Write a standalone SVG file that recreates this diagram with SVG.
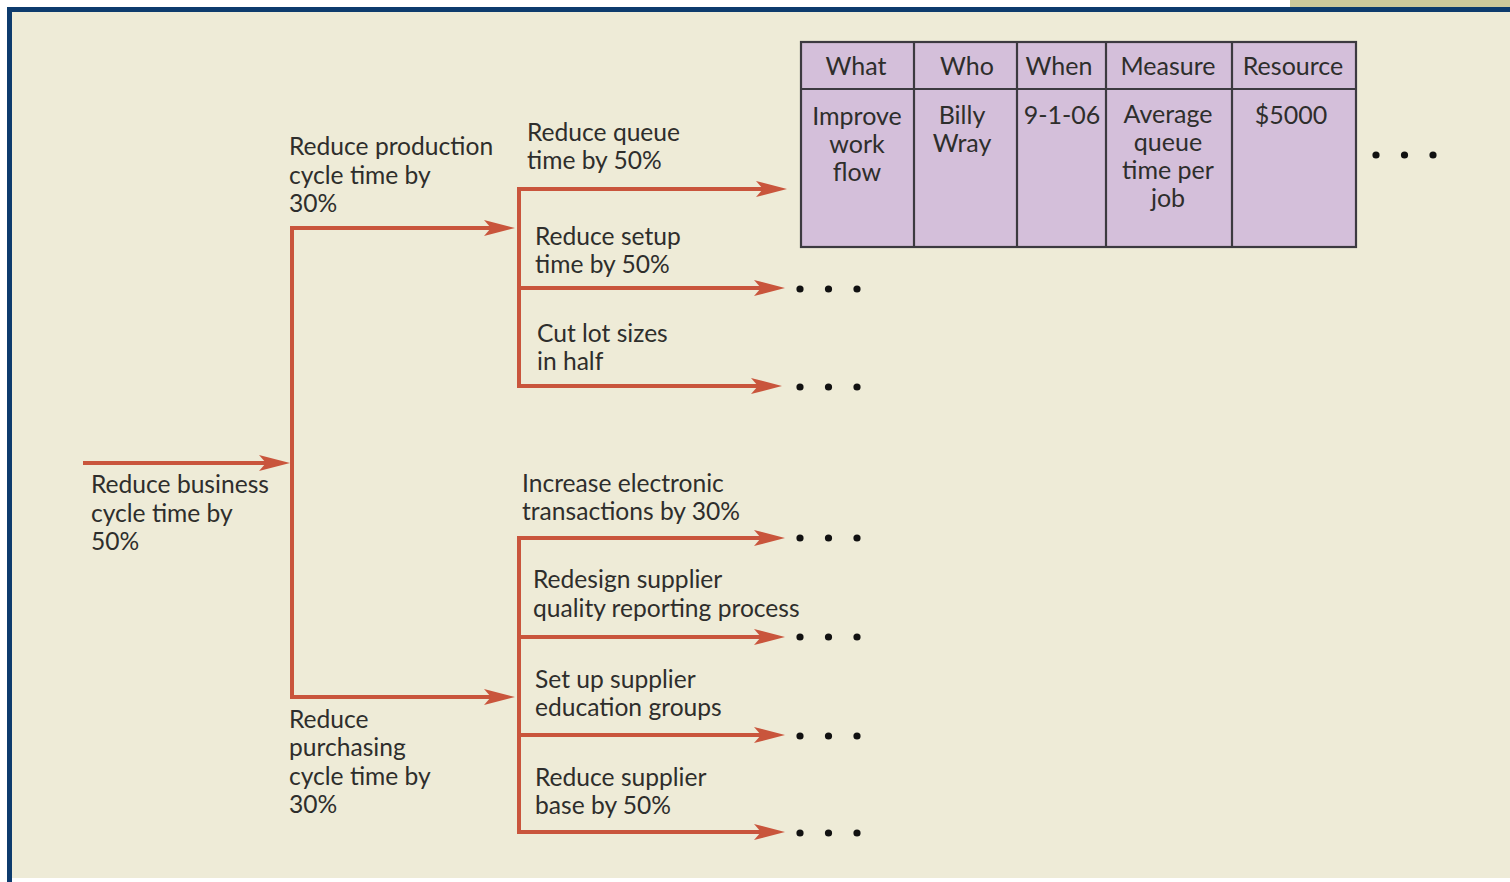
<svg xmlns="http://www.w3.org/2000/svg" width="1510" height="882" viewBox="0 0 1510 882">
  <style>
    .lbl { font-family: Lato, "Open Sans", "Liberation Sans", sans-serif; font-size: 24.6px; fill: #2e2e2c; }
    .cell { font-family: Lato, "Open Sans", "Liberation Sans", sans-serif; font-size: 25px; fill: #2e2e2c; text-anchor: middle; }
    .conn { stroke: #c9553c; stroke-width: 4; fill: none; }
    .arr { marker-end: url(#head); }
    .grid { stroke: #3c3a40; stroke-width: 2.2; fill: none; }
    .dot { fill: #111; }
  </style>
  <defs>
    <marker id="head" markerUnits="userSpaceOnUse" viewBox="-32 -9 33 18" markerWidth="33" markerHeight="18" refX="-12" refY="0" orient="auto">
      <path d="M0,0 L-31,-8 L-24,0 L-31,8 Z" fill="#c9553c"/>
    </marker>
    <g id="dots">
      <circle class="dot" cx="0" cy="0" r="3.6"/>
      <circle class="dot" cx="28.5" cy="0" r="3.6"/>
      <circle class="dot" cx="57" cy="0" r="3.6"/>
    </g>
  </defs>

  <!-- page frame -->
  <rect x="0" y="0" width="1510" height="882" fill="#ffffff"/>
  <rect x="1290" y="0" width="220" height="8" fill="#cdc99b"/>
  <rect x="7" y="7" width="1503" height="875" fill="#0d3b6d"/>
  <rect x="12" y="12" width="1498" height="866" fill="#eeebd7"/>
  <rect x="12" y="878" width="1498" height="4" fill="#ffffff"/>

  <!-- connectors -->
  <g id="connectors">
    <line class="conn arr" x1="83" y1="463" x2="278" y2="463"/>
    <polyline class="conn" points="292,228 292,697"/>
    <line class="conn arr" x1="290" y1="228" x2="503" y2="228"/>
    <line class="conn arr" x1="290" y1="697" x2="503" y2="697"/>

    <polyline class="conn" points="519,189 519,386"/>
    <line class="conn arr" x1="517" y1="189" x2="775" y2="189"/>
    <line class="conn arr" x1="517" y1="288" x2="773" y2="288"/>
    <line class="conn arr" x1="517" y1="386" x2="770" y2="386"/>

    <polyline class="conn" points="519,538 519,832"/>
    <line class="conn arr" x1="517" y1="538" x2="773" y2="538"/>
    <line class="conn arr" x1="517" y1="637" x2="773" y2="637"/>
    <line class="conn arr" x1="517" y1="735" x2="773" y2="735"/>
    <line class="conn arr" x1="517" y1="832" x2="773" y2="832"/>

    <use href="#dots" x="800" y="289"/>
    <use href="#dots" x="800" y="387"/>
    <use href="#dots" x="800" y="538"/>
    <use href="#dots" x="800" y="637"/>
    <use href="#dots" x="800" y="736"/>
    <use href="#dots" x="800" y="833"/>
    <use href="#dots" x="1376" y="155"/>
  </g>

  <!-- goal and sub-goal labels -->
  <g id="goal-business">
    <text class="lbl" x="91" y="493">Reduce business</text>
    <text class="lbl" x="91" y="522">cycle time by</text>
    <text class="lbl" x="91" y="550">50%</text>
  </g>
  <g id="goal-production">
    <text class="lbl" x="289" y="155">Reduce production</text>
    <text class="lbl" x="289" y="184">cycle time by</text>
    <text class="lbl" x="289" y="212">30%</text>
  </g>
  <g id="goal-purchasing">
    <text class="lbl" x="289" y="728">Reduce</text>
    <text class="lbl" x="289" y="756">purchasing</text>
    <text class="lbl" x="289" y="785">cycle time by</text>
    <text class="lbl" x="289" y="813">30%</text>
  </g>

  <g id="task-queue">
    <text class="lbl" x="527" y="141">Reduce queue</text>
    <text class="lbl" x="527" y="169">time by 50%</text>
  </g>
  <g id="task-setup">
    <text class="lbl" x="535" y="245">Reduce setup</text>
    <text class="lbl" x="535" y="273">time by 50%</text>
  </g>
  <g id="task-lots">
    <text class="lbl" x="537" y="342">Cut lot sizes</text>
    <text class="lbl" x="537" y="370">in half</text>
  </g>
  <g id="task-electronic">
    <text class="lbl" x="522" y="492">Increase electronic</text>
    <text class="lbl" x="522" y="520">transactions by 30%</text>
  </g>
  <g id="task-quality">
    <text class="lbl" x="533" y="588">Redesign supplier</text>
    <text class="lbl" x="533" y="617">quality reporting process</text>
  </g>
  <g id="task-education">
    <text class="lbl" x="535" y="688">Set up supplier</text>
    <text class="lbl" x="535" y="716">education groups</text>
  </g>
  <g id="task-base">
    <text class="lbl" x="535" y="786">Reduce supplier</text>
    <text class="lbl" x="535" y="814">base by 50%</text>
  </g>

  <!-- action plan table -->
  <g id="action-table">
    <rect x="801" y="42" width="555" height="205" fill="#d4bfda"/>
    <rect class="grid" x="801" y="42" width="555" height="205"/>
    <line class="grid" x1="801" y1="89" x2="1356" y2="89"/>
    <line class="grid" x1="914" y1="42" x2="914" y2="247"/>
    <line class="grid" x1="1017" y1="42" x2="1017" y2="247"/>
    <line class="grid" x1="1106" y1="42" x2="1106" y2="247"/>
    <line class="grid" x1="1232" y1="42" x2="1232" y2="247"/>

    <text class="cell" x="856" y="75">What</text>
    <text class="cell" x="967" y="75">Who</text>
    <text class="cell" x="1059" y="75">When</text>
    <text class="cell" x="1168" y="75">Measure</text>
    <text class="cell" x="1293" y="75">Resource</text>

    <text class="cell" x="857" y="125">Improve</text>
    <text class="cell" x="857" y="153">work</text>
    <text class="cell" x="857" y="181">flow</text>
    <text class="cell" x="962" y="124">Billy</text>
    <text class="cell" x="962" y="152">Wray</text>
    <text class="cell" x="1062" y="124">9-1-06</text>
    <text class="cell" x="1168" y="123">Average</text>
    <text class="cell" x="1168" y="151">queue</text>
    <text class="cell" x="1168" y="179">time per</text>
    <text class="cell" x="1168" y="207">job</text>
    <text class="cell" x="1291" y="124">$5000</text>
  </g>
</svg>
